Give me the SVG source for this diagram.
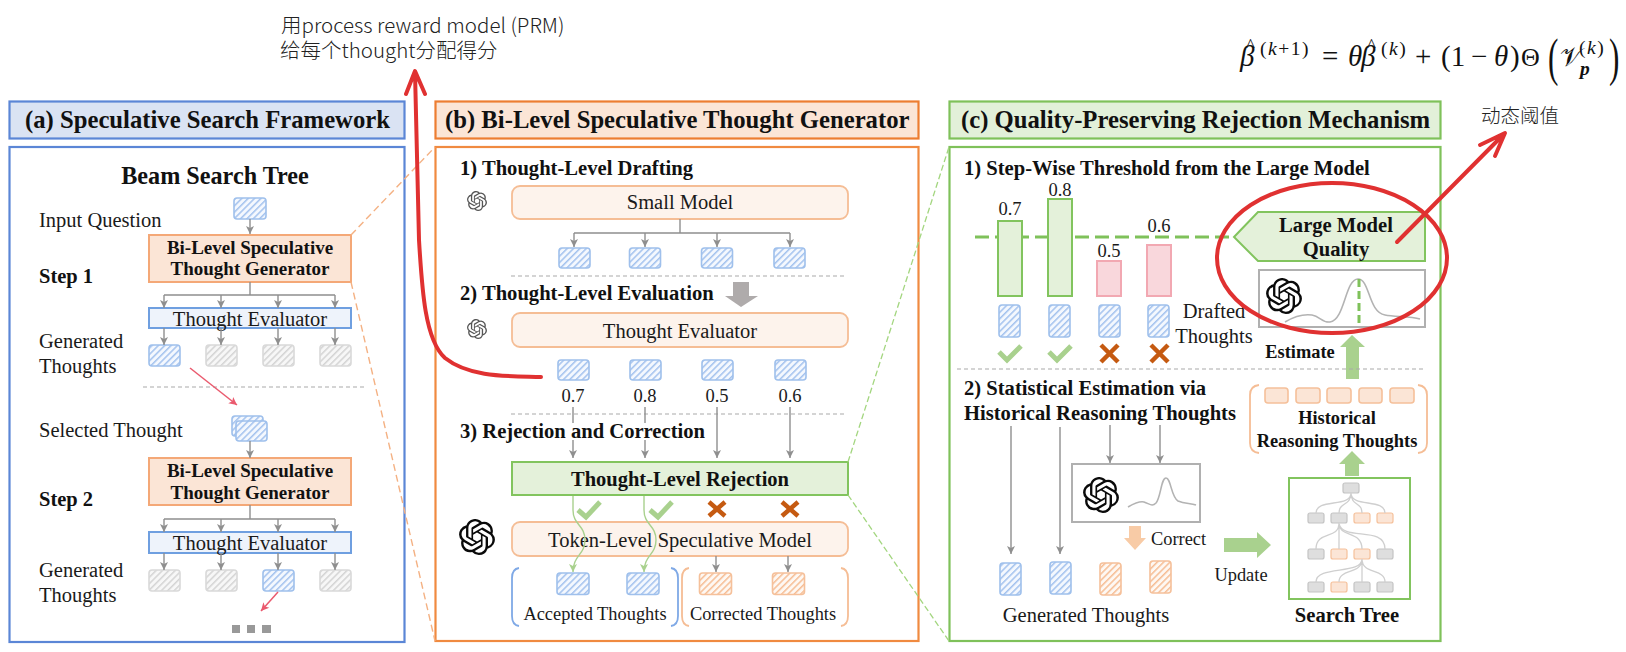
<svg xmlns="http://www.w3.org/2000/svg" xmlns:xlink="http://www.w3.org/1999/xlink" width="1626" height="652" viewBox="0 0 1626 652">
<style>
text{font-family:"Liberation Serif","Noto Sans CJK SC",serif;fill:#1a1a1a}
.hd{font-size:24.7px;font-weight:700;fill:#111}
.h2{font-size:20.6px;font-weight:700;fill:#111}
.n{font-size:20.5px}
.nb{font-size:20.5px;font-weight:700;fill:#111}
.lb{font-size:20.5px;text-anchor:middle}
.sm{font-size:18.4px}
.bm{font-size:19px;font-weight:700;text-anchor:middle;fill:#111}
.bs{font-size:18.4px;font-weight:700;text-anchor:middle;fill:#111}
.v{font-size:18.5px;text-anchor:middle}
.hand{font-family:"Noto Sans CJK SC","Noto Sans",sans-serif;font-size:20.5px;font-weight:300;fill:#222}
.m{font-size:29px;fill:#111}
.mi{font-size:29px;font-style:italic;fill:#111}
.hat{font-size:19px;font-style:normal}
.s{font-size:19.5px;fill:#111;letter-spacing:1.5px}
.si{font-size:19.5px;font-style:italic;fill:#111}
.big{font-size:52px;fill:#111}
.tb{fill:url(#hb);stroke:#9fc0ec;stroke-width:1.6}
.tg{fill:url(#hg);stroke:#d9d9d9;stroke-width:1.6}
.to{fill:url(#ho);stroke:#f5c09a;stroke-width:1.6}
.ob{fill:#fbe5d6;stroke:#f4a877;stroke-width:2}
.eb{fill:#eef3fb;stroke:#6f9fe0;stroke-width:2}
.mb{fill:#fdf3ec;stroke:#f5bd95;stroke-width:1.8}
.gr{fill:#e4f1da;stroke:#82c45e;stroke-width:2}
.pk{fill:#f9d7dc;stroke:#f2a8b2;stroke-width:2}
.gb{fill:#fff;stroke:#b0b0b0;stroke-width:2}
.a{fill:none;stroke:#8f8f8f;stroke-width:1.4;marker-end:url(#ag)}
.l{fill:none;stroke:#8f8f8f;stroke-width:1.4}
.dash{fill:none;stroke:#aaa;stroke-width:1.2;stroke-dasharray:4 3}
.ag{fill:none;stroke:#a9d18e;stroke-width:1.4;marker-end:url(#agn)}
.rr{fill:none;stroke:#ea5a6e;stroke-width:1.5;marker-end:url(#ar)}
.ck{fill:none;stroke:#a9d18e;stroke-width:5}
.xx{fill:none;stroke:#c55a11;stroke-width:4.5}
.br{fill:none;stroke-width:1.8}
.red{fill:none;stroke:#e03131;stroke-width:4;stroke-linecap:round;stroke-linejoin:round}
.tc{fill:none;stroke:#cfcfcf;stroke-width:1.3}
.ng{fill:#dedede;stroke:#c4c4c4;stroke-width:1.2}
.no{fill:#fbe5d6;stroke:#f5c09a;stroke-width:1.2}
.nh{fill:#fbe5d6;stroke:#f5c09a;stroke-width:1.6}
.cv{fill:none;stroke:#b3b3b3;stroke-width:1.6}
</style>
<defs>
<pattern id="hb" width="4.5" height="4.5" patternUnits="userSpaceOnUse" patternTransform="rotate(45)"><rect width="4.5" height="4.5" fill="#f4f8fe"/><rect width="1.5" height="4.5" fill="#a3c2ee"/></pattern>
<pattern id="hg" width="4.5" height="4.5" patternUnits="userSpaceOnUse" patternTransform="rotate(45)"><rect width="4.5" height="4.5" fill="#f7f7f7"/><rect width="1.5" height="4.5" fill="#d4d4d4"/></pattern>
<pattern id="ho" width="4.5" height="4.5" patternUnits="userSpaceOnUse" patternTransform="rotate(45)"><rect width="4.5" height="4.5" fill="#fef8f3"/><rect width="1.5" height="4.5" fill="#f6bd94"/></pattern>
<marker id="ag" viewBox="0 0 10 10" refX="9" refY="5" markerWidth="10" markerHeight="10" markerUnits="userSpaceOnUse" orient="auto"><path d="M1 1L9 5L1 9L3 5z" fill="#8f8f8f"/></marker>
<marker id="agn" viewBox="0 0 10 10" refX="9" refY="5" markerWidth="10" markerHeight="10" markerUnits="userSpaceOnUse" orient="auto"><path d="M1 1L9 5L1 9L3 5z" fill="#a9d18e"/></marker>
<marker id="ar" viewBox="0 0 10 10" refX="9" refY="5" markerWidth="10" markerHeight="10" markerUnits="userSpaceOnUse" orient="auto"><path d="M1 1L9 5L1 9L3 5z" fill="#ea5a6e"/></marker>
<symbol id="logo" viewBox="0 0 24 24"><path d="M22.2819 9.8211a5.9847 5.9847 0 0 0-.5157-4.9108 6.0462 6.0462 0 0 0-6.5098-2.9A6.0651 6.0651 0 0 0 4.9807 4.1818a5.9847 5.9847 0 0 0-3.9977 2.9 6.0462 6.0462 0 0 0 .7427 7.0966 5.98 5.98 0 0 0 .511 4.9107 6.051 6.051 0 0 0 6.5146 2.9001A5.9847 5.9847 0 0 0 13.2599 24a6.0557 6.0557 0 0 0 5.7718-4.2058 5.9894 5.9894 0 0 0 3.9977-2.9001 6.0557 6.0557 0 0 0-.7475-7.0729zm-9.022 12.6081a4.4755 4.4755 0 0 1-2.8764-1.0408l.1419-.0804 4.7783-2.7582a.7948.7948 0 0 0 .3927-.6813v-6.7369l2.02 1.1686a.071.071 0 0 1 .038.052v5.5826a4.504 4.504 0 0 1-4.4945 4.4944zm-9.6607-4.1254a4.4708 4.4708 0 0 1-.5346-3.0137l.142.0852 4.783 2.7582a.7712.7712 0 0 0 .7806 0l5.8428-3.3685v2.3324a.0804.0804 0 0 1-.0332.0615L9.74 19.9502a4.4992 4.4992 0 0 1-6.1408-1.6464zM2.3408 7.8956a4.485 4.485 0 0 1 2.3655-1.9728V11.6a.7664.7664 0 0 0 .3879.6765l5.8144 3.3543-2.0201 1.1685a.0757.0757 0 0 1-.071 0l-4.8303-2.7865A4.504 4.504 0 0 1 2.3408 7.872zm16.5963 3.8558L13.1038 8.364 15.1192 7.2a.0757.0757 0 0 1 .071 0l4.8303 2.7913a4.4944 4.4944 0 0 1-.6765 8.1042v-5.6772a.79.79 0 0 0-.407-.667zm2.0107-3.0231l-.142-.0852-4.7735-2.7818a.7759.7759 0 0 0-.7854 0L9.409 9.2297V6.8974a.0662.0662 0 0 1 .0284-.0615l4.8303-2.7866a4.4992 4.4992 0 0 1 6.6802 4.66zM8.3065 12.863l-2.02-1.1638a.0804.0804 0 0 1-.038-.0567V6.0742a4.4992 4.4992 0 0 1 7.3757-3.4537l-.142.0805L8.704 5.459a.7948.7948 0 0 0-.3927.6813zm1.0976-2.3654l2.602-1.4998 2.6069 1.4998v2.9994l-2.5974 1.4997-2.6067-1.4997Z"/></symbol>
</defs>
<rect width="1626" height="652" fill="#fff"/>

<g id="panel-a">
<rect x="9.5" y="101.5" width="395" height="37" fill="#dae3f3" stroke="#5b86d6" stroke-width="2.2"/>
<text class="hd" x="25" y="128">(a) Speculative Search Framework</text>
<rect x="9.5" y="147" width="395" height="495" fill="#fff" stroke="#5b86d6" stroke-width="2.2"/>
<text x="215" y="184" style="font-size:24.2px;font-weight:700;text-anchor:middle;fill:#111">Beam Search Tree</text>
<text class="n" x="39" y="227">Input Question</text>
<text class="nb" x="39" y="283">Step 1</text>
<text class="n" x="39" y="348">Generated</text>
<text class="n" x="39" y="373">Thoughts</text>
<text class="n" x="39" y="437">Selected Thought</text>
<text class="nb" x="39" y="506">Step 2</text>
<text class="n" x="39" y="577">Generated</text>
<text class="n" x="39" y="602">Thoughts</text>
</g>
<g id="panel-b">
<rect x="435.5" y="101.5" width="483" height="37" fill="#fbe5d6" stroke="#ed7d31" stroke-width="2.2"/>
<text class="hd" x="445" y="128">(b) Bi-Level Speculative Thought Generator</text>
<rect x="435.5" y="147" width="483" height="494" fill="#fff" stroke="#f08a40" stroke-width="2.2"/>
<text class="h2" x="460" y="175">1) Thought-Level Drafting</text>
<text class="h2" x="460" y="300">2) Thought-Level Evaluation</text>
<text class="h2" x="460" y="438">3) Rejection and Correction</text>
</g>
<g id="panel-c">
<rect x="949.5" y="101.5" width="491" height="37" fill="#e2f0d9" stroke="#7fc15a" stroke-width="2.2"/>
<text class="hd" x="961" y="128">(c) Quality-Preserving Rejection Mechanism</text>
<rect x="949.5" y="147" width="491" height="494" fill="#fff" stroke="#7fc15a" stroke-width="2.2"/>
<text class="h2" x="964" y="175">1) Step-Wise Threshold from the Large Model</text>
<text class="h2" x="964" y="395">2) Statistical Estimation via</text>
<text class="h2" x="964" y="420">Historical Reasoning Thoughts</text>
</g>

<g id="a-input"><rect class="tb" x="234" y="198" width="32" height="21" rx="3"/></g>
<g id="a-gen1"><rect class="ob" x="149" y="235" width="202" height="47"/><text class="bm" x="250" y="254">Bi-Level Speculative</text><text class="bm" x="250" y="275">Thought Generator</text></g>
<g id="a-eval1"><rect class="eb" x="149" y="308" width="202" height="20"/><text class="lb" x="250" y="326">Thought Evaluator</text></g>
<g id="a-t1"><rect class="tb" x="149" y="345" width="31" height="21" rx="3"/></g>
<g id="a-t2"><rect class="tg" x="206" y="345" width="31" height="21" rx="3"/></g>
<g id="a-t3"><rect class="tg" x="263" y="345" width="31" height="21" rx="3"/></g>
<g id="a-t4"><rect class="tg" x="320" y="345" width="31" height="21" rx="3"/></g>
<g id="a-selected"><rect class="tb" x="232" y="416" width="31" height="20" rx="3"/><rect class="tb" x="236" y="421" width="31" height="20" rx="3"/></g>
<g id="a-gen2"><rect class="ob" x="149" y="458" width="202" height="47"/><text class="bm" x="250" y="477">Bi-Level Speculative</text><text class="bm" x="250" y="499">Thought Generator</text></g>
<g id="a-eval2"><rect class="eb" x="149" y="532" width="202" height="21"/><text class="lb" x="250" y="550">Thought Evaluator</text></g>
<g id="a-t5"><rect class="tg" x="149" y="570" width="31" height="21" rx="3"/></g>
<g id="a-t6"><rect class="tg" x="206" y="570" width="31" height="21" rx="3"/></g>
<g id="a-t7"><rect class="tb" x="263" y="570" width="31" height="21" rx="3"/></g>
<g id="a-t8"><rect class="tg" x="320" y="570" width="31" height="21" rx="3"/></g>
<g id="a-more" fill="#999"><rect x="232" y="625" width="8" height="8"/><rect x="247" y="625" width="8" height="8"/><rect x="262" y="625" width="9" height="8"/></g>

<g id="b-small"><use xlink:href="#logo" href="#logo" x="467" y="191" width="20" height="20" fill="#555"/><rect class="mb" x="512" y="186" width="336" height="33" rx="8"/><text class="lb" x="680" y="209">Small Model</text></g>
<g id="b-d1"><rect class="tb" x="559" y="248" width="31" height="20" rx="3"/></g>
<g id="b-d2"><rect class="tb" x="629.5" y="248" width="31" height="20" rx="3"/></g>
<g id="b-d3"><rect class="tb" x="701.5" y="248" width="31" height="20" rx="3"/></g>
<g id="b-d4"><rect class="tb" x="774" y="248" width="31" height="20" rx="3"/></g>
<g id="b-down"><path d="M733 282H749V296H758L741 307L725 296H733z" fill="#afabab"/></g>
<g id="b-eval"><use xlink:href="#logo" href="#logo" x="467" y="319" width="20" height="20" fill="#555"/><rect class="mb" x="512" y="313" width="336" height="34" rx="8"/><text class="lb" x="680" y="338">Thought Evaluator</text></g>
<g id="b-e1"><rect class="tb" x="558" y="360" width="31" height="20" rx="3"/><text class="v" x="573" y="402">0.7</text></g>
<g id="b-e2"><rect class="tb" x="630" y="360" width="31" height="20" rx="3"/><text class="v" x="645" y="402">0.8</text></g>
<g id="b-e3"><rect class="tb" x="702" y="360" width="31" height="20" rx="3"/><text class="v" x="717" y="402">0.5</text></g>
<g id="b-e4"><rect class="tb" x="775" y="360" width="31" height="20" rx="3"/><text class="v" x="790" y="402">0.6</text></g>
<g id="b-reject"><rect class="gr" x="512" y="462" width="336" height="33"/><text x="680" y="486" style="font-size:20.5px;font-weight:700;text-anchor:middle;fill:#111">Thought-Level Rejection</text></g>
<g id="b-marks"><path class="ck" d="M578 510L586 517L600 502M650 510L658 517L672 502"/><path class="xx" d="M709 502L725 516M725 502L709 516M782 502L798 516M798 502L782 516"/></g>
<g id="b-token"><use xlink:href="#logo" href="#logo" x="459" y="519" width="36" height="36" fill="#0a0a0a"/><rect class="mb" x="512" y="522" width="336" height="34" rx="8"/><text class="lb" x="680" y="547">Token-Level Speculative Model</text></g>
<g id="b-a1"><rect class="tb" x="557" y="573" width="32" height="21.5" rx="3"/></g>
<g id="b-a2"><rect class="tb" x="627" y="573" width="32" height="21.5" rx="3"/></g>
<g id="b-c1"><rect class="to" x="699.5" y="573" width="32" height="21.5" rx="3"/></g>
<g id="b-c2"><rect class="to" x="772.5" y="573" width="32" height="21.5" rx="3"/></g>
<g id="b-accepted"><path class="br" stroke="#7fa9e6" d="M519 568Q512 569 512 578V616Q512 625 519 626M671 568Q678 569 678 578V616Q678 625 671 626"/><text class="lb sm" x="595" y="620">Accepted Thoughts</text></g>
<g id="b-corrected"><path class="br" stroke="#f5bd95" d="M689 568Q682 569 682 578V616Q682 625 689 626M841 568Q848 569 848 578V616Q848 625 841 626"/><text class="lb sm" x="763" y="620">Corrected Thoughts</text></g>

<g id="c-threshold"><path d="M975 237H1236" fill="none" stroke="#7fc15a" stroke-width="3" stroke-dasharray="14 6"/></g>
<g id="c-b1"><rect class="gr" x="998" y="221" width="24" height="75"/><text class="v" x="1010" y="215">0.7</text></g>
<g id="c-b2"><rect class="gr" x="1048" y="199" width="24" height="97"/><text class="v" x="1060" y="196">0.8</text></g>
<g id="c-b3"><rect class="pk" x="1097" y="261" width="24" height="35"/><text class="v" x="1109" y="257">0.5</text></g>
<g id="c-b4"><rect class="pk" x="1147" y="245" width="24" height="51"/><text class="v" x="1159" y="232">0.6</text></g>
<g id="c-t1"><rect class="tb" x="999" y="305" width="21" height="32" rx="3"/></g>
<g id="c-t2"><rect class="tb" x="1049" y="305" width="21" height="32" rx="3"/></g>
<g id="c-t3"><rect class="tb" x="1099" y="305" width="21" height="32" rx="3"/></g>
<g id="c-t4"><rect class="tb" x="1148" y="305" width="21" height="32" rx="3"/></g>
<g id="c-marks"><path class="ck" d="M999 352L1007 360L1021 346M1049 352L1057 360L1071 346"/><path class="xx" d="M1101 345L1118 362M1118 345L1101 362M1151 345L1168 362M1168 345L1151 362"/></g>
<g id="c-drafted"><text class="lb" x="1214" y="318">Drafted</text><text class="lb" x="1214" y="343">Thoughts</text></g>
<g id="c-large"><path class="gr" d="M1234 237L1258 212H1425V261H1258z"/><text class="h2" x="1336" y="232" style="text-anchor:middle">Large Model</text><text class="h2" x="1336" y="256" style="text-anchor:middle">Quality</text></g>
<g id="c-est-box"><rect class="gb" x="1259" y="270" width="166" height="57"/><use xlink:href="#logo" href="#logo" x="1266" y="278" width="36" height="36" fill="#0a0a0a"/><path class="cv" d="M1285 322C1295 316 1305 314 1312 315C1320 316 1322 323 1330 322C1345 320 1345 279 1358 279C1370 279 1368 312 1385 315C1395 317 1410 316 1420 319"/><path d="M1359 279V325" fill="none" stroke="#7fc15a" stroke-width="3" stroke-dasharray="8 4"/></g>
<g id="c-estimate"><text class="bs" x="1300" y="358">Estimate</text><path d="M1352 335L1365 347H1359V379H1346V347H1340z" fill="#a9d18e"/></g>
<g id="c-hist"><path class="br" stroke="#f5bd95" d="M1259 385Q1250 386 1250 395V443Q1250 452 1259 453M1418 385Q1427 386 1427 395V443Q1427 452 1418 453"/>
<rect class="nh" x="1265" y="388" width="23" height="15" rx="3"/><rect class="nh" x="1296" y="388" width="24" height="15" rx="3"/><rect class="nh" x="1327" y="388" width="24" height="15" rx="3"/><rect class="nh" x="1359" y="388" width="23" height="15" rx="3"/><rect class="nh" x="1390" y="388" width="24" height="15" rx="3"/>
<text class="bs" x="1337" y="424">Historical</text><text class="bs" x="1337" y="447">Reasoning Thoughts</text></g>
<g id="c-up"><path d="M1352 451L1365 464H1359V476H1345V464H1339z" fill="#a9d18e"/></g>
<g id="c-model"><rect class="gb" x="1072" y="464" width="128" height="58"/><use xlink:href="#logo" href="#logo" x="1083" y="477" width="36" height="36" fill="#0a0a0a"/><path class="cv" d="M1128 507C1135 503 1140 501 1144 502C1150 504 1152 507 1156 503C1161 497 1161 478 1166 478C1171 478 1171 497 1178 501C1185 504 1190 503 1196 505"/></g>
<g id="c-correct"><path d="M1129 526H1141V538H1146L1135 550L1124 538H1129z" fill="#f8cba6"/><text class="sm" x="1151" y="545">Correct</text></g>
<g id="c-g1"><rect class="tb" x="1000" y="563" width="21" height="32" rx="3"/></g>
<g id="c-g2"><rect class="tb" x="1050" y="562" width="21" height="32" rx="3"/></g>
<g id="c-g3"><rect class="to" x="1100" y="563" width="21" height="32" rx="3"/></g>
<g id="c-g4"><rect class="to" x="1150" y="561" width="21" height="32" rx="3"/></g>
<g id="c-generated"><text class="lb" x="1086" y="622">Generated Thoughts</text></g>
<g id="c-update"><path d="M1224 538H1257V532L1271 545L1257 558V552H1224z" fill="#a9d18e"/><text class="lb sm" x="1241" y="581">Update</text></g>
<g id="c-tree"><rect x="1289" y="478" width="121" height="121" fill="none" stroke="#82c45e" stroke-width="2"/>
<rect class="ng" x="1343" y="483" width="16" height="10" rx="2"/>
<rect class="ng" x="1308" y="513" width="16" height="10" rx="2"/><rect class="ng" x="1331" y="513" width="16" height="10" rx="2"/><rect class="no" x="1354" y="513" width="16" height="10" rx="2"/><rect class="no" x="1377" y="513" width="16" height="10" rx="2"/>
<rect class="ng" x="1308" y="549" width="16" height="10" rx="2"/><rect class="no" x="1331" y="549" width="16" height="10" rx="2"/><rect class="no" x="1354" y="549" width="16" height="10" rx="2"/><rect class="ng" x="1377" y="549" width="16" height="10" rx="2"/>
<rect class="ng" x="1308" y="582" width="16" height="10" rx="2"/><rect class="no" x="1331" y="582" width="16" height="10" rx="2"/><rect class="ng" x="1354" y="582" width="16" height="10" rx="2"/><rect class="ng" x="1377" y="582" width="16" height="10" rx="2"/>
<text x="1347" y="622" style="font-size:20.6px;font-weight:700;text-anchor:middle;fill:#111">Search Tree</text></g>

<g id="connectors">
<path d="M351 235L435 147M351 282L435 641" fill="none" stroke="#f4b183" stroke-width="1.4" stroke-dasharray="7 4"/>
<path d="M848 462L949 147M848 495L949 641" fill="none" stroke="#a3d67f" stroke-width="1.3" stroke-dasharray="6 3"/>
<path class="dash" d="M143 387H364M511 276H846M511 414H846M957 369H1423"/>
<path class="a" d="M250 219V234"/>
<path class="l" d="M250 282V295M164 295H335"/>
<path class="a" d="M164 295V308"/><path class="a" d="M221 295V308"/><path class="a" d="M278 295V308"/><path class="a" d="M335 295V308"/>
<path class="a" d="M164 328V345"/><path class="a" d="M221 328V345"/><path class="a" d="M278 328V345"/><path class="a" d="M335 328V345"/>
<path class="a" d="M250 441V458"/>
<path class="l" d="M250 505V519M164 519H335"/>
<path class="a" d="M164 519V532"/><path class="a" d="M221 519V532"/><path class="a" d="M278 519V532"/><path class="a" d="M335 519V532"/>
<path class="a" d="M164 553V570"/><path class="a" d="M221 553V570"/><path class="a" d="M278 553V570"/><path class="a" d="M335 553V570"/>
<path class="rr" d="M190 368L237 405"/><path class="rr" d="M278 592L261 611"/>
<path class="l" d="M680 219V233M574 233H790"/>
<path class="a" d="M574 233V247"/><path class="a" d="M645 233V247"/><path class="a" d="M717 233V247"/><path class="a" d="M790 233V247"/>
<path class="l" d="M573 407V423M645 407V423"/>
<path class="a" d="M573 440V458"/><path class="a" d="M645 440V458"/><path class="a" d="M717 407V458"/><path class="a" d="M790 407V458"/>
<path class="ag" d="M573 496V510C573 525 585 525 585 540C585 555 573 555 573 572"/>
<path class="ag" d="M644 496V510C644 525 656 525 656 540C656 555 644 555 644 572"/>
<path class="a" d="M716 556V572"/><path class="a" d="M788 556V572"/>
<path class="a" d="M1011 426V554"/><path class="a" d="M1060 427V554"/><path class="a" d="M1110 425V463"/><path class="a" d="M1160 425V463"/>
<path class="tc" d="M1351 493C1351 508 1316 498 1316 513M1351 493C1351 506 1339 502 1339 513M1351 493C1351 506 1362 502 1362 513M1351 493C1351 508 1385 498 1385 513"/>
<path class="tc" d="M1339 523C1339 540 1316 530 1316 549M1339 523V549M1339 523C1339 538 1362 530 1362 549M1339 523C1342 542 1385 525 1385 549"/>
<path class="tc" d="M1362 559C1362 575 1316 565 1316 582M1362 559C1362 575 1339 568 1339 582M1362 559V582M1362 559C1362 575 1385 568 1385 582"/>
</g>

<g id="note-prm"><text class="hand"><tspan x="281" y="33">用process reward model (PRM)</tspan><tspan x="280" y="58">给每个thought分配得分</tspan></text></g>
<g id="note-threshold"><text class="hand" style="font-size:19.5px" x="1481" y="123">动态阈值</text></g>
<g id="formula">
<text class="mi" x="1240" y="66">β<tspan class="hat" x="1246" y="52">^</tspan></text><text class="s" x="1260" y="55">(<tspan class="si">k</tspan>+1)</text>
<text class="m" x="1322" y="66">=</text><text class="mi" x="1348" y="66">θ</text><text class="mi" x="1361" y="66">β<tspan class="hat" x="1367" y="52">^</tspan></text><text class="s" x="1381" y="55">(<tspan class="si">k</tspan>)</text>
<text class="m" x="1415" y="66">+</text><text class="m" x="1441" y="66">(1</text><text class="m" x="1471" y="66">−</text><text class="mi" x="1494" y="66">θ</text><text class="m" x="1510" y="66">)</text><text class="m" style="font-size:26px" x="1521" y="66">Θ</text>
<text class="big" transform="translate(1548 75) scale(.6 1)">(</text><text class="m" style="font-family:'DejaVu Serif','Liberation Serif',serif;font-size:26px" x="1560" y="66">𝒱</text><text class="s" x="1579" y="54">(<tspan class="si">k</tspan>)</text><text class="si" style="font-weight:700" x="1580" y="75">p</text><text class="big" transform="translate(1609 75) scale(.6 1)">)</text>
</g>
<g id="annotations">
<ellipse class="red" cx="1332" cy="258" rx="115" ry="75"/>
<path class="red" d="M541 377C510 376 470 378 445 358C425 340 422 290 419 240L415 72M406 94L415 71L425 94"/>
<path class="red" d="M1397 242L1503 135M1480 145L1505 133L1495 156"/>
</g>
</svg>
